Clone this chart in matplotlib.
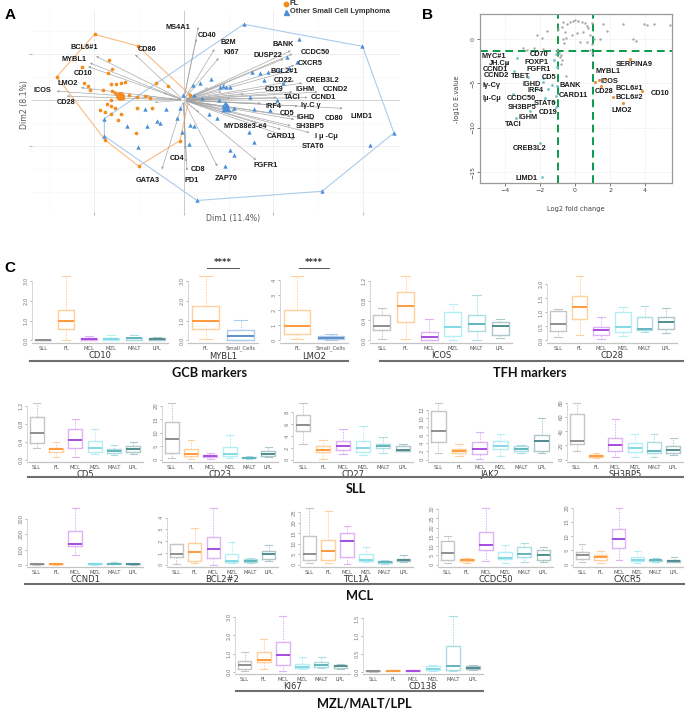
import numpy as np
import matplotlib
matplotlib.use('Agg')
import matplotlib.pyplot as plt
from matplotlib.lines import Line2D
import matplotlib.transforms as mtrans

# ---------------- DATA ----------------
# Panel A: PCA individuals (Dim1, Dim2)
FL_X = [-0.99, -0.51, -0.83, -1.13, -0.80, -0.84, -1.41, -1.11, -1.06, -0.81, -0.75, -0.70, -0.65, -0.31, -0.17,
        -1.04, -0.89, -0.80, -0.76, -0.71, -0.69, -0.67, -0.61, -0.52, -0.43, -0.37, -0.81, -0.85, -0.81, -0.76,
        -0.93, -0.87, -0.81, -0.69, -0.52, -0.35, -0.73, -0.53, -0.87, -0.04, -0.50, 0.07]
FL_Y = [1.43, 1.18, 0.87, 0.72, 0.67, 0.59, 0.51, 0.38, 0.30, 0.36, 0.35, 0.38, 0.40, 0.38, 0.30,
        0.22, 0.23, 0.20, 0.16, 0.14, 0.07, 0.04, 0.11, 0.07, 0.09, 0.04, 0.01, -0.09, -0.13, -0.16,
        -0.22, -0.25, -0.29, -0.30, -0.18, -0.18, -0.42, -0.71, -0.87, -0.88, -1.43, 0.12]
OT_X = [0.67, 1.99, 1.28, 1.15, 1.26, 0.76, 0.85, 0.94, 1.06, 1.17, 0.30, 0.18, 0.11, 0.44, 0.47, 0.41, 0.52,
        0.89, 1.11, -0.01, 0.12, 0.21, 0.39, 0.46, 0.48, 0.44, 0.56, 0.74, 1.04, 0.78, 0.96, 0.28, 0.37,
        0.07, 0.12, -0.07, -0.04, -0.20, -0.43, -0.63, -0.41, -0.30, -0.26, -0.02, 0.73, 0.78, 0.06, 0.52,
        0.56, -0.51, 0.46, 2.07, 2.34, 1.54, 0.15, -0.88, -0.88]
OT_Y = [1.65, 1.17, 1.32, 0.94, 0.83, 0.62, 0.59, 0.62, 0.65, 0.69, 0.45, 0.38, 0.33, 0.30, 0.28, 0.28, 0.28,
        0.43, 0.38, 0.12, 0.11, 0.05, 0.01, -0.07, -0.11, -0.13, -0.16, 0.07, 0.01, -0.20, -0.22, -0.29, -0.38,
        -0.54, -0.57, -0.38, -0.16, -0.20, -0.20, -0.57, -0.57, -0.45, -0.49, -0.69, -0.69, -0.91, -0.96, -1.09,
        -1.20, -1.01, -1.43, -0.98, -0.71, -1.98, -2.18, -0.40, -0.78]
# Panel A: variable loadings
A_VARS = ['MS4A1', 'CD40', 'B2M', 'KI67', 'BCL6#1', 'MYBL1', 'CD10', 'LMO2', 'ICOS', 'CD28', 'CD86', 'GATA3',
          'CD4', 'CD8', 'PD1', 'ZAP70', 'FGFR1', 'BANK', 'CCDC50', 'DUSP22', 'CXCR5', 'BCL2#1', 'CD22',
          'CREB3L2', 'CD19', 'IGHM', 'CCND2', 'TACI', 'CCND1', 'Iγ.C γ', 'LIMD1', 'IRF4', 'CD5', 'IGHD',
          'CD80', 'SH3BP5', 'MYD88e3-e4', 'I μ -Cμ', 'CARD11', 'STAT6']
A_LOAD_X = [0.17, 0.15, 0.36, 0.41, -1.00, -1.07, -1.09, -1.17, -1.44, -1.33, -0.56, -0.25,
            0.02, 0.03, 0.04, 0.39, 0.83, 1.22, 1.24, 1.14, 1.26, 1.19, 1.26,
            1.35, 1.13, 1.24, 1.52, 1.07, 1.41, 1.30, 1.80, 0.89, 1.22, 1.26,
            1.48, 1.22, 0.85, 1.43, 1.11, 1.26]
A_LOAD_Y = [1.65, 1.39, 1.16, 0.96, 0.98, 0.83, 0.75, 0.28, 0.20, 0.09, 1.03, -1.56,
            -1.12, -1.40, -1.59, -1.49, -1.34, 1.10, 1.03, 0.92, 0.78, 0.64, 0.43,
            0.38, 0.22, 0.18, 0.18, 0.06, 0.06, -0.13, -0.18, -0.07, -0.36, -0.43,
            -0.42, -0.57, -0.52, -0.72, -0.65, -0.87]
A_EXTRA_X = [0.45, 0.55, 0.35, 0.30, 0.60, -0.45, -0.35, -0.25, 0.20, 0.70, 0.50]
A_EXTRA_Y = [0.20, 0.05, -0.12, 0.30, -0.25, 0.10, -0.05, 0.18, -0.30, 0.15, 0.38]

# Panel B: volcano
B_GREY_X = [-2.19, -1.62, -1.90, -0.95, -0.76, -0.48, -0.67, -0.29, -0.10, 0.00, 0.19, 0.38, 0.57, 0.70, 0.76,
            0.95, -0.57, -0.53, -0.19, 0.10, 0.48, 0.86, 1.09, 0.95, 0.67, 0.86, 0.95, -0.67, -0.63, -1.05,
            -0.93, -0.80, -0.86, -0.74, -0.80, -0.53, -2.99, -2.76, -2.32, -1.81, 1.58, 1.81, 1.43, 2.76,
            3.94, 4.13, 4.51, 3.33, 3.49, 5.45, 0.29]
B_GREY_Y = [0.45, 0.90, 0.07, 1.09, 1.39, 1.65, 1.87, 1.95, 2.06, 2.13, 2.02, 1.95, 1.76, 1.46, 1.20,
            1.76, 0.82, 0.15, 0.45, 0.64, 0.75, 0.45, -0.04, -0.56, -0.30, -1.24, -1.61, -0.04, -0.41, -1.24,
            -1.54, -1.80, -2.06, -2.36, -2.85, -4.12, -1.05, -1.24, -1.05, -1.16, 1.65, 0.94, -0.04, 1.69,
            1.69, 1.57, 1.65, -0.04, -0.19, 1.57, -0.30]
B_CYAN_X = [-5.47, -3.30, -3.49, -1.85, -1.81, -3.52, -2.57, -3.39, -2.00, -1.90, -1.09, -1.18, -1.05,
            -1.33, -1.52, -1.05, -1.09, -1.18, -1.09, -1.71, -2.67, -2.19, -3.90]
B_CYAN_Y = [-2.55, -2.10, -3.60, -4.34, -4.87, -6.18, -8.16, -8.91, -11.72, -15.58, -1.72, -2.36, -3.11,
            -5.17, -5.58, -5.28, -6.37, -7.04, -7.60, -6.67, -4.31, -5.66, -2.70]
B_ORANGE_X = [3.14, 1.37, 1.71, 1.47, 3.81, 2.19, 2.72, 1.14]
B_ORANGE_Y = [-2.21, -4.61, -4.49, -5.28, -5.81, -6.55, -7.15, -4.79]
B_LABELS = ['MYC#1', 'JH.Cμ', 'CCND1', 'CCND2', 'TBET', 'Iγ-Cγ', 'Iμ-Cμ', 'CD70', 'FOXP1', 'FGFR1', 'CD5',
            'IGHD', 'IRF4', 'CCDC50', 'STAT6', 'SH3BP5', 'CD19', 'IGHM', 'TACI', 'CREB3L2', 'LIMD1', 'BANK',
            'CARD11', 'SERPINA9', 'MYBL1', 'ICOS', 'CD28', 'BCL6#1', 'BCL6#2', 'LMO2', 'CD10']

# Panel C: box statistics [whisker low, Q1, median, Q3, whisker high]
GROUPS6 = ['SLL', 'FL', 'MCL', 'MZL', 'MALT', 'LPL']
GROUPS2 = ['FL', 'Small_Cells']
CD10 = [[0.0, 0.02, 0.03, 0.04, 0.06], [0.0, 0.56, 0.97, 1.56, 3.28], [0.0, 0.02, 0.08, 0.14, 0.22],
        [0.0, 0.03, 0.08, 0.13, 0.28], [0.0, 0.04, 0.10, 0.13, 0.25], [0.01, 0.03, 0.07, 0.10, 0.17]]
MYBL1 = [[0.05, 0.58, 1.0, 1.72, 3.26], [0.0, 0.04, 0.21, 0.53, 1.05]]
LMO2 = [[0.07, 0.45, 0.98, 2.0, 4.3], [0.0, 0.07, 0.16, 0.27, 0.41]]
ICOS = [[0.02, 0.21, 0.29, 0.50, 0.64], [0.02, 0.36, 0.69, 0.97, 1.30], [0.0, 0.01, 0.06, 0.17, 0.42],
        [0.0, 0.09, 0.26, 0.57, 0.73], [0.0, 0.19, 0.33, 0.50, 0.92], [0.05, 0.10, 0.28, 0.37, 0.42]]
CD28 = [[0.12, 0.33, 0.57, 1.05, 1.13], [0.20, 0.77, 1.19, 1.58, 2.31], [0.06, 0.18, 0.38, 0.48, 0.83],
        [0.15, 0.30, 0.48, 1.01, 1.19], [0.30, 0.38, 0.39, 0.83, 1.23], [0.27, 0.42, 0.65, 0.83, 1.15]]
CD5 = [[0.26, 0.37, 0.59, 0.95, 1.26], [0.07, 0.18, 0.24, 0.27, 0.39], [0.06, 0.27, 0.44, 0.69, 0.91],
       [0.13, 0.18, 0.27, 0.41, 0.68], [0.11, 0.16, 0.20, 0.24, 0.32], [0.13, 0.18, 0.25, 0.31, 0.39]]
CD23 = [[0.6, 2.5, 7.7, 14.1, 20.9], [0.3, 1.5, 2.1, 4.0, 7.4], [0.3, 0.9, 1.2, 1.7, 2.5],
        [0.5, 1.2, 2.1, 4.8, 9.1], [0.2, 0.5, 0.7, 1.1, 1.5], [0.9, 1.2, 2.0, 3.3, 4.6]]
CD27 = [[2.7, 4.8, 5.9, 7.6, 9.5], [0.2, 1.3, 1.7, 2.3, 3.4], [0.9, 1.6, 2.3, 3.1, 5.1],
        [0.8, 1.3, 2.0, 3.2, 5.6], [1.1, 1.9, 2.3, 2.7, 3.9], [1.5, 1.5, 1.7, 2.3, 2.6]]
JAK2 = [[1.7, 4.2, 6.9, 11.8, 13.6], [0.8, 1.7, 2.2, 2.6, 3.8], [0.2, 1.3, 2.6, 4.2, 6.6],
        [0.8, 2.5, 3.4, 4.5, 6.2], [1.7, 2.2, 2.6, 3.2, 3.6], [1.6, 2.1, 4.5, 6.0, 10.1]]
SH3BP5 = [[12.4, 22.0, 26.7, 64.5, 79.0], [2.3, 3.7, 5.5, 6.9, 10.1], [3.7, 12.4, 20.7, 30.0, 57.6],
          [3.2, 10.6, 16.1, 23.0, 35.5], [3.7, 10.1, 12.4, 24.4, 35.5], [6.9, 10.1, 13.8, 19.8, 30.9]]
CCND1 = [[1, 3, 5, 7, 9], [1, 2, 4, 7, 9], [65, 122, 137, 224, 372],
         [1, 3, 6, 9, 13], [2, 5, 8, 11, 15], [1, 3, 5, 8, 10]]
BCL2_2 = [[0.09, 0.66, 0.94, 1.77, 1.80], [0.14, 0.29, 1.06, 1.86, 3.14], [0.0, 0.57, 1.34, 2.37, 4.8],
          [0.14, 0.20, 0.34, 0.91, 1.94], [0.14, 0.23, 0.34, 0.49, 0.57], [0.29, 0.51, 0.94, 1.20, 1.71]]
TCL1A = [[0.8, 2.1, 5.3, 13.7, 27.0], [0.8, 2.4, 6.6, 11.8, 25.8], [0.5, 3.7, 11.5, 15.3, 18.7],
         [1.3, 1.8, 2.4, 5.0, 8.5], [0.5, 1.0, 1.3, 1.6, 2.1], [1.3, 1.6, 2.1, 2.9, 4.8]]
CCDC50 = [[0.9, 2.3, 6.4, 12.7, 15.4], [0.9, 1.8, 2.3, 3.2, 3.8], [1.8, 7.7, 10.4, 17.9, 30.5],
          [0.9, 3.2, 3.8, 6.8, 10.9], [1.4, 4.1, 5.9, 9.5, 11.6], [1.4, 2.7, 5.5, 7.7, 9.8]]
CXCR5 = [[0.8, 2.0, 3.3, 4.5, 7.3], [0.6, 1.8, 2.6, 3.3, 4.7], [1.5, 5.9, 9.1, 12.7, 19.8],
         [0.6, 1.2, 1.8, 2.7, 4.9], [0.8, 1.2, 1.5, 1.8, 2.4], [0.8, 0.9, 1.4, 1.8, 2.6]]
KI67 = [[0.07, 0.16, 0.39, 0.57, 1.06], [0.16, 0.52, 0.63, 1.06, 1.80], [0.07, 0.39, 0.90, 1.65, 3.05],
        [0.13, 0.18, 0.25, 0.45, 0.79], [0.18, 0.27, 0.36, 0.52, 0.79], [0.16, 0.22, 0.31, 0.36, 0.43]]
CD138 = [[0.0, 0.01, 0.02, 0.03, 0.04], [0.01, 0.02, 0.03, 0.05, 0.06], [0.01, 0.02, 0.03, 0.05, 0.06],
         [0.03, 0.06, 0.09, 0.16, 0.19], [0.03, 0.04, 0.17, 0.72, 1.56], [0.05, 0.09, 0.11, 0.17, 0.19]]

# ---------------- STYLE / LAYOUT ----------------
W, H = 685, 709
fig = plt.figure(figsize=(W / 100, H / 100), dpi=100)
BOLD = ['Liberation Sans', 'DejaVu Sans']
LABEL_FS = 5.3


def add_ax(l, t, r, b):
    return fig.add_axes([l / W, 1 - b / H, (r - l) / W, (b - t) / H])


def fx(px):
    return px / W


def fy(py):
    return 1 - py / H


# ======== Panel A ========
axA = add_ax(32, 10, 400, 212)
axA.set_xlim(-1.685, 2.407)
axA.set_ylim(-2.43, 1.96)
for s in axA.spines.values():
    s.set_visible(False)
axA.set_xticks([-1, 0, 1, 2])
axA.set_yticks([-1, 1])
axA.set_xticks(np.arange(-1.5, 2.5, 0.5), minor=True)
axA.set_yticks(np.arange(-2.0, 2.0, 0.5), minor=True)
axA.grid(which='major', color='#ececec', lw=0.6)
axA.grid(which='minor', color='#f6f6f6', lw=0.4)
axA.tick_params(which='major', labelleft=False, labelbottom=False, length=2, color='#bbbbbb')
axA.tick_params(which='minor', length=0)
axA.set_axisbelow(True)
axA.axhline(0, color='#a0a0a0', ls=(0, (1.2, 1.2)), lw=0.6, zorder=1)
axA.axvline(0, color='#a0a0a0', ls=(0, (1.2, 1.2)), lw=0.6, zorder=1)


def hull(xs, ys):
    pts = sorted(set(zip(xs, ys)))

    def cross(o, a, b):
        return (a[0] - o[0]) * (b[1] - o[1]) - (a[1] - o[1]) * (b[0] - o[0])
    lower, upper = [], []
    for p in pts:
        while len(lower) >= 2 and cross(lower[-2], lower[-1], p) <= 0:
            lower.pop()
        lower.append(p)
    for p in reversed(pts):
        while len(upper) >= 2 and cross(upper[-2], upper[-1], p) <= 0:
            upper.pop()
        upper.append(p)
    h = lower[:-1] + upper[:-1]
    h.append(h[0])
    return [p[0] for p in h], [p[1] for p in h]


hx, hy = hull(FL_X, FL_Y)
axA.plot(hx, hy, color='#f9bb85', lw=0.8, zorder=2)
hx, hy = hull(OT_X, OT_Y)
axA.plot(hx, hy, color='#aacbea', lw=0.8, zorder=2)

for x, y in zip(A_EXTRA_X, A_EXTRA_Y):
    axA.annotate('', xy=(x, y), xytext=(0, 0),
                 arrowprops=dict(arrowstyle='-|>', color='#b0b0b0', lw=0.4, mutation_scale=3), zorder=3)
for x, y in zip(A_LOAD_X, A_LOAD_Y):
    axA.annotate('', xy=(x, y), xytext=(0, 0),
                 arrowprops=dict(arrowstyle='-|>', color='#a2a2a2', lw=0.45, mutation_scale=3), zorder=3)

axA.scatter(FL_X, FL_Y, s=7, c='#f58b1f', marker='o', lw=0, zorder=4)
axA.scatter(OT_X, OT_Y, s=10, c='#4b8fd6', marker='^', lw=0, zorder=4)
axA.scatter([np.mean(FL_X)], [np.mean(FL_Y)], s=40, c='#f58b1f', marker='o', lw=0, zorder=5)
axA.scatter([np.mean(OT_X)], [np.mean(OT_Y)], s=50, c='#4b8fd6', marker='^', lw=0, zorder=5)

A_LABEL_POS = {'MS4A1': (-0.06, 1.59), 'CD40': (0.26, 1.41), 'B2M': (0.50, 1.25), 'KI67': (0.53, 1.03),
               'BCL6#1': (-1.10, 1.14), 'MYBL1': (-1.22, 0.89), 'CD10': (-1.12, 0.59), 'LMO2': (-1.29, 0.36),
               'ICOS': (-1.57, 0.22), 'CD28': (-1.31, -0.04), 'CD86': (-0.40, 1.10), 'GATA3': (-0.40, -1.74),
               'CD4': (-0.07, -1.27), 'CD8': (0.16, -1.51), 'PD1': (0.09, -1.74), 'ZAP70': (0.47, -1.70),
               'FGFR1': (0.91, -1.43), 'BANK': (1.11, 1.20), 'CCDC50': (1.47, 1.03), 'DUSP22': (0.94, 0.98),
               'CXCR5': (1.41, 0.80), 'BCL2#1': (1.12, 0.63), 'CD22': (1.11, 0.42), 'CREB3L2': (1.55, 0.43),
               'CD19': (1.01, 0.23), 'IGHM': (1.35, 0.23), 'CCND2': (1.69, 0.23), 'TACI': (1.21, 0.05),
               'CCND1': (1.56, 0.06), 'Iγ.C γ': (1.41, -0.12), 'LIMD1': (1.98, -0.35), 'IRF4': (1.00, -0.13),
               'CD5': (1.15, -0.29), 'IGHD': (1.36, -0.38), 'CD80': (1.67, -0.40), 'SH3BP5': (1.41, -0.58),
               'MYD88e3-e4': (0.69, -0.57), 'I μ -Cμ': (1.59, -0.80), 'CARD11': (1.09, -0.80),
               'STAT6': (1.44, -1.01)}
for name in A_VARS:
    x, y = A_LABEL_POS[name]
    axA.text(x, y, name, ha='center', va='center', fontsize=LABEL_FS, fontweight='bold',
             family=BOLD, color='#1a1a1a', zorder=6)

fig.text(fx(233), fy(219), 'Dim1 (11.4%)', ha='center', va='center', fontsize=5.6, color='#555555')
fig.text(fx(25), fy(105), 'Dim2 (8.1%)', ha='center', va='center', rotation=90, fontsize=5.6, color='#555555')

# legend
fig.add_artist(Line2D([fx(286)], [fy(3.5)], marker='o', ms=3.2, color='#f58b1f', lw=0))
fig.add_artist(Line2D([fx(286)], [fy(11.5)], marker='^', ms=3.6, color='#4b8fd6', lw=0))
fig.text(fx(290), fy(3.5), 'FL', ha='left', va='center', fontsize=5.4, fontweight='bold', family=BOLD, color='#333333')
fig.text(fx(290), fy(11.5), 'Other Small Cell Lymphoma', ha='left', va='center', fontsize=5.4,
         fontweight='bold', family=BOLD, color='#333333')

fig.text(fx(5), fy(15), 'A', ha='left', va='center', fontsize=11, fontweight='bold', family=BOLD)
fig.text(fx(422), fy(15), 'B', ha='left', va='center', fontsize=11, fontweight='bold', family=BOLD)
fig.text(fx(4), fy(268), 'C', ha='left', va='center', fontsize=11, fontweight='bold', family=BOLD)

# ======== Panel B ========
axB = add_ax(480, 14, 672, 183)
axB.set_xlim(-5.43, 5.54)
axB.set_ylim(-16.2, 2.8)
for s in axB.spines.values():
    s.set_color('#9a9a9a')
    s.set_linewidth(0.9)
axB.set_xticks([-4, -2, 0, 2, 4])
axB.set_yticks([0, -5, -10, -15])
axB.grid(color='#ececec', lw=0.5, ls='--')
axB.set_axisbelow(True)
axB.tick_params(labelsize=4.5, colors='#444444', length=2, pad=1.5, width=0.5)
for lab in axB.get_yticklabels():
    lab.set_rotation(90)
    lab.set_va('center')
axB.axvline(-1, color='#0a9a4a', lw=1.4, ls=(0, (4, 2.5)), zorder=2)
axB.axvline(1, color='#0a9a4a', lw=1.4, ls=(0, (4, 2.5)), zorder=2)
axB.axhline(-1.31, color='#0a9a4a', lw=1.4, ls=(0, (4, 2.5)), zorder=2)
axB.scatter(B_GREY_X, B_GREY_Y, s=3, c='#a8a8a8', lw=0, zorder=3)
axB.scatter(B_CYAN_X, B_CYAN_Y, s=4, c='#6cc4c8', lw=0, zorder=3)
axB.scatter(B_ORANGE_X, B_ORANGE_Y, s=5, c='#e8913a', lw=0, zorder=3)
B_LABEL_POS = {'MYC#1': (-4.67, -1.99), 'JH.Cμ': (-4.29, -2.73), 'CCND1': (-4.57, -3.48), 'CCND2': (-4.48, -4.16),
               'TBET': (-3.09, -4.23), 'Iγ-Cγ': (-4.76, -5.28), 'Iμ-Cμ': (-4.76, -6.74), 'CD70': (-2.04, -1.80),
               'FOXP1': (-2.19, -2.62), 'FGFR1': (-2.10, -3.48), 'CD5': (-1.47, -4.31), 'IGHD': (-2.46, -5.17),
               'IRF4': (-2.25, -5.81), 'CCDC50': (-3.05, -6.74), 'STAT6': (-1.71, -7.23), 'SH3BP5': (-3.05, -7.68),
               'CD19': (-1.52, -8.24), 'IGHM': (-2.67, -8.80), 'TACI': (-3.52, -9.63), 'CREB3L2': (-2.57, -12.32),
               'LIMD1': (-2.80, -15.66), 'BANK': (-0.29, -5.28), 'CARD11': (-0.10, -6.37),
               'SERPINA9': (3.39, -2.92), 'MYBL1': (1.90, -3.67), 'ICOS': (1.96, -4.79), 'CD28': (1.66, -5.92),
               'BCL6#1': (3.07, -5.58), 'BCL6#2': (3.07, -6.55), 'LMO2': (2.67, -8.05), 'CD10': (4.86, -6.18)}
for name in B_LABELS:
    x, y = B_LABEL_POS[name]
    axB.text(x, y, name, ha='center', va='center', fontsize=LABEL_FS, fontweight='bold', family=BOLD,
             color='#1a1a1a', zorder=5)
fig.text(fx(576), fy(209), 'Log2 fold change', ha='center', va='center', fontsize=4.8, color='#444444')
fig.text(fx(457), fy(99), '-log10 E.value', ha='center', va='center', rotation=90, fontsize=4.8, color='#444444')

# ======== Panel C ========
BOX_EDGE = {'SLL': '#c6c6c6', 'FL': '#ffcf9e', 'MCL': '#ddb3f5', 'MZL': '#b5eef4', 'MALT': '#acdde2',
            'LPL': '#adc7ca', 'Small_Cells': '#aecbea'}
MED_COL = {'SLL': '#8e8e8e', 'FL': '#ff9a3c', 'MCL': '#a64de0', 'MZL': '#82d9e6', 'MALT': '#62b5be',
           'LPL': '#4f8c91', 'Small_Cells': '#5b8fcc'}

R1, R2, R3, R4 = (273, 343), (401, 462), (506, 567), (614, 674)
PANELS = [
    ('CD10', CD10, GROUPS6, (32, 168), R1, [0, 1, 2, 3], '%.1f'),
    ('MYBL1', MYBL1, GROUPS2, (188, 258), R1, [0, 1, 2, 3], '%.1f'),
    ('LMO2', LMO2, GROUPS2, (280, 348), R1, [0, 1, 2, 3, 4], '%d'),
    ('ICOS', ICOS, GROUPS6, (370, 512), R1, [0, 0.4, 0.8, 1.2], '%.1f'),
    ('CD28', CD28, GROUPS6, (547, 677), R1, [0, 0.5, 1.0, 1.5, 2.0], '%.1f'),
    ('CD5', CD5, GROUPS6, (27, 143), R2, [0, 0.4, 0.8, 1.2], '%.1f'),
    ('CD23', CD23, GROUPS6, (162, 278), R2, [0, 5, 10, 15, 20], '%d'),
    ('CD27', CD27, GROUPS6, (293, 413), R2, [0, 2, 4, 6, 8], '%d'),
    ('JAK2', JAK2, GROUPS6, (428, 552), R2, [0, 2, 4, 6, 8, 10, 12], '%d'),
    ('SH3BP5', SH3BP5, GROUPS6, (567, 683), R2, [0, 20, 40, 60, 80], '%d'),
    ('CCND1', CCND1, GROUPS6, (27, 143), R3, [0, 100, 200, 300], '%d'),
    ('BCL2#2', BCL2_2, GROUPS6, (167, 278), R3, [0, 1, 2, 3, 4], '%d'),
    ('TCL1A', TCL1A, GROUPS6, (300, 413), R3, [0, 5, 10, 15, 20, 25], '%d'),
    ('CCDC50', CCDC50, GROUPS6, (438, 553), R3, [0, 5, 10, 15, 20, 25, 30], '%d'),
    ('CXCR5', CXCR5, GROUPS6, (573, 683), R3, [0, 5, 10, 15, 20], '%d'),
    ('KI67', KI67, GROUPS6, (235, 350), R4, [0, 1, 2, 3], '%.1f'),
    ('CD138', CD138, GROUPS6, (363, 483), R4, [0, 0.5, 1.0, 1.5], '%.1f'),
]

axes_c = {}
for gene, stats, groups, (l, r), (t, b), yt, fmt in PANELS:
    ax = add_ax(l, t, r, b)
    axes_c[gene] = ax
    n = len(groups)
    bstats = [dict(whislo=s[0], q1=s[1], med=s[2], q3=s[3], whishi=s[4], fliers=[]) for s in stats]
    w = 0.72 if n > 2 else 0.76
    art = ax.bxp(bstats, positions=list(range(1, n + 1)), widths=w, capwidths=w / 2,
                 showfliers=False, manage_ticks=False)
    for i, g in enumerate(groups):
        ec, mc = BOX_EDGE[g], MED_COL[g]
        art['boxes'][i].set_color(ec)
        art['boxes'][i].set_linewidth(1.0)
        art['medians'][i].set_color(mc)
        art['medians'][i].set_linewidth(1.4)
        for k in (2 * i, 2 * i + 1):
            art['whiskers'][k].set_color(ec)
            art['whiskers'][k].set_linestyle((0, (1.5, 1.2)))
            art['whiskers'][k].set_linewidth(0.7)
            art['caps'][k].set_color(ec)
            art['caps'][k].set_linewidth(0.8)
    hi = max(s[4] for s in stats)
    ax.set_xlim(0.5, n + 0.5)
    ax.set_ylim(-0.04 * hi, hi * 1.04)
    ax.set_xticks(list(range(1, n + 1)))
    ax.set_xticklabels(groups)
    ax.set_yticks(yt)
    ax.set_yticklabels([fmt % v for v in yt])
    ax.tick_params(axis='x', length=0, labelsize=3.8, colors='#555555', pad=2)
    ax.tick_params(axis='y', length=1.5, width=0.4, labelsize=3.8, colors='#777777', pad=1)
    for lab in ax.get_yticklabels():
        lab.set_rotation(90)
        lab.set_va('center')
    ax.spines['top'].set_visible(False)
    ax.spines['right'].set_visible(False)
    ax.spines['left'].set_color('#d0d0d0')
    ax.spines['left'].set_linewidth(0.6)
    ax.spines['left'].set_bounds(yt[0], yt[-1])
    ax.spines['bottom'].set_color('#c4c4c4')
    ax.spines['bottom'].set_linewidth(0.9)
    ax.set_xlabel(gene, fontsize=6, color='#333333', labelpad=0.5)
    ax.patch.set_alpha(0)

# significance bars
for gene in ('MYBL1', 'LMO2'):
    ax = axes_c[gene]
    tr = mtrans.blended_transform_factory(ax.transData, ax.transAxes)
    ax.plot([1.05, 1.95], [1.075, 1.075], transform=tr, color='#555555', lw=0.7, clip_on=False)
    ax.text(1.5, 1.09, '****', transform=tr, ha='center', va='bottom', fontsize=6, color='#333333',
            fontweight='bold', clip_on=False)

# section underlines and titles
SECTIONS = [('GCB markers', 30, 348, 361, 210, 373), ('TFH markers', 380, 683, 361, 530, 373),
            ('SLL', 28, 683, 477, 356, 489), ('MCL', 25, 684, 584, 360, 596),
            ('MZL/MALT/LPL', 236, 483, 691, 364, 703)]
for title, x0, x1, yl, xt, yt_ in SECTIONS:
    fig.add_artist(Line2D([fx(x0), fx(x1)], [fy(yl), fy(yl)], color='#6e6e6e', lw=1.5))
    fig.text(fx(xt), fy(yt_), title, ha='center', va='center', fontsize=9.2, fontweight='bold',
             family=['Lato', 'DejaVu Sans'], color='#111111')

fig.savefig('out.png', dpi=100)
